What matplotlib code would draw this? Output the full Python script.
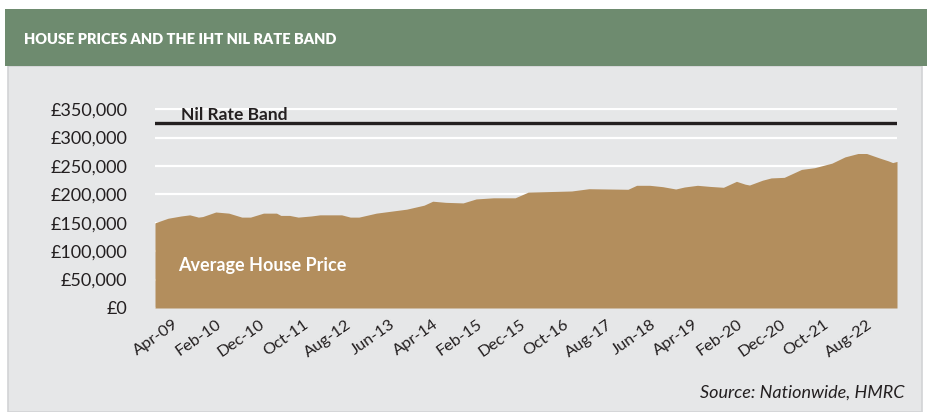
import pandas as pd
import matplotlib
matplotlib.use("Agg")
from matplotlib import pyplot as plt
from matplotlib.patches import Rectangle

plt.rcParams["font.family"] = ["Lato", "DejaVu Sans"]

# average house price (month, £)
price_months = [
    "2008-11", "2009-02", "2009-05", "2009-07", "2009-09", "2009-10",
    "2010-01", "2010-04", "2010-07", "2010-09", "2010-12", "2011-03",
    "2011-04", "2011-06", "2011-08", "2011-11", "2012-01", "2012-06",
    "2012-08", "2012-10", "2013-02", "2013-06", "2013-09", "2014-01",
    "2014-03", "2014-06", "2014-10", "2015-01", "2015-05", "2015-10",
    "2016-01", "2016-11", "2017-03", "2017-12", "2018-02", "2018-05",
    "2018-08", "2018-11", "2019-01", "2019-04", "2019-07", "2019-10",
    "2020-01", "2020-03", "2020-04", "2020-07", "2020-09", "2020-12",
    "2021-02", "2021-04", "2021-07", "2021-11", "2022-02", "2022-05",
    "2022-07", "2022-10", "2022-12", "2023-01", "2023-02",
]
price_values = [
    150000, 158000, 162000, 164000, 160000, 161000,
    169000, 167000, 160000, 160000, 167000, 167000,
    163000, 163000, 160000, 162000, 164000, 164000,
    160000, 160000, 167000, 171000, 174000, 181000,
    188000, 186000, 185000, 192000, 194000, 194000,
    204000, 206000, 210000, 209000, 216000, 216000,
    213600, 209500, 213000, 216000, 214000, 212500,
    223000, 218000, 216500, 225000, 229000, 230000,
    237000, 244000, 247000, 255000, 266000, 272000,
    272000, 264000, 259000, 256000, 258000,
]

nil_rate_band = 325000

tick_labels = [
    "Apr-09", "Feb-10", "Dec-10", "Oct-11", "Aug-12", "Jun-13", "Apr-14",
    "Feb-15", "Dec-15", "Oct-16", "Aug-17", "Jun-18", "Apr-19", "Feb-20",
    "Dec-20", "Oct-21", "Aug-22",
]
y_ticks = [0, 50000, 100000, 150000, 200000, 250000, 300000, 350000]

GREEN = "#6e8b6f"
PANEL = "#e6e7e8"
FILL = "#b38e5d"
INK = "#231f20"

start = pd.Period(price_months[0], "M")
x = [(pd.Period(m, "M") - start).n for m in price_months]
tick_pos = [(pd.Period(pd.to_datetime(t, format="%b-%y"), "M") - start).n for t in tick_labels]

W, H = 928, 412
fig = plt.figure(figsize=(W / 100, H / 100), dpi=100, facecolor="white")

# background panel and header band
fig.patches.append(Rectangle((8 / W, 0), 914 / W, 346 / H, transform=fig.transFigure,
                             facecolor=PANEL, edgecolor="#d2d3d5", linewidth=1.2, zorder=-2))
fig.patches.append(Rectangle((5 / W, 1 - 66 / H), 923 / W, 57 / H, transform=fig.transFigure,
                             facecolor=GREEN, edgecolor="none", zorder=-1))
fig.text(24 / W, 1 - 40 / H, "HOUSE PRICES AND THE IHT NIL RATE BAND", color="white",
         fontsize=10.5, fontweight="heavy", va="center", ha="left")

ymax = 352000
bottom = 1 - 308 / H
top = 1 - (308 - ymax / 50000 * 28.4) / H
ax = fig.add_axes([155 / W, bottom, 742 / W, top - bottom])
ax.set_facecolor("none")
ax.set_zorder(2)

ax.fill_between(x, price_values, 0, color=FILL, linewidth=0, zorder=2)
ax.axhline(nil_rate_band, color=INK, linewidth=2.4, zorder=3)

ax.set_xlim(0, x[-1])
ax.set_ylim(0, ymax)
ax.set_yticks(y_ticks)
ax.set_yticklabels([f"£{v:,.0f}" for v in y_ticks])
ax.set_xticks(tick_pos)
ax.set_xticklabels(tick_labels, rotation=35, ha="right", va="center",
                   rotation_mode="anchor")
ax.tick_params(axis="x", length=0, pad=11, labelsize=11.8, labelcolor=INK)
ax.tick_params(axis="y", length=0, pad=20, labelsize=13, labelcolor=INK)
ax.grid(axis="y", color="white", linewidth=1.6, zorder=1)
ax.set_axisbelow(True)
for s in ax.spines.values():
    s.set_visible(False)

ax.text(6, 331000, "Nil Rate Band", fontsize=12.5, fontweight="bold", color=INK,
        va="baseline", ha="left", zorder=4)
ax.text(5.3, 74000, "Average House Price", fontsize=13, fontweight="bold",
        color="white", va="center", ha="left", zorder=4)

fig.text(905 / W, 1 - 393 / H, "Source: Nationwide, HMRC", fontsize=13, style="italic",
         color=INK, ha="right", va="center")

fig.savefig("out.png", dpi=100, facecolor="white")
